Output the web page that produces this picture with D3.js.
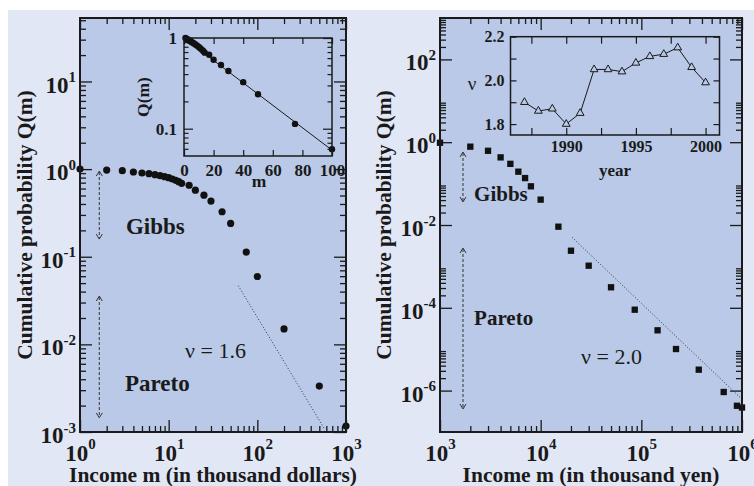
<!DOCTYPE html>
<html><head><meta charset="utf-8">
<script src="https://cdn.jsdelivr.net/npm/d3@7"></script>
<style>
body{margin:0;background:#fff}
svg{display:block}
text{font-family:'Liberation Serif','Times New Roman',serif}
</style>
</head><body>
<svg id="c" width="754" height="486"></svg>
<script>
// ---------------- data ----------------
// Left: USA income distribution (thousand dollars)
const usIncome = [1,2,3,4,5,6,7,8,9,10,11,12,13,14,17,20,25,30,40,50,75,100,200,500,1000];
const usQ = [1.0,0.976,0.959,0.927,0.903,0.886,0.863,0.841,0.819,0.798,0.771,0.745,0.718,0.689,0.654,0.575,0.504,0.432,0.326,0.240,0.113,0.0595,0.0150,0.00334,0.00117];
const usFitIncome = [61, 580];
const usFitQ = [0.0467, 0.00106];
// Inset of left panel (exponential fit on linear-log axes)
const insetFitM = [0, 100];
const insetFitQ = [1.0, 0.058];
// Right: Japan income distribution (thousand yen)
const jpIncome = [1000,2000,3000,4000,5000,6000,7000,8000,10000,15000,20000,30000,50000,86000,145000,221000,372000,658000,891000,1000000];
const jpQ = [0.97,0.78,0.62,0.43,0.30,0.194,0.136,0.086,0.041,0.0091,0.00239,0.00104,0.000313,9.0e-5,2.86e-5,1.01e-5,3.2e-6,9.25e-7,4.3e-7,3.9e-7];
const jpFitIncome = [20500, 973000];
const jpFitQ = [0.00505, 6.6e-7];
// Inset of right panel: Pareto exponent by year
const years = [1987,1988,1989,1990,1991,1992,1993,1994,1995,1996,1997,1998,1999,2000];
const nu = [1.90,1.86,1.87,1.80,1.85,2.05,2.05,2.04,2.08,2.11,2.12,2.15,2.06,1.99];
// tick values / labels
const usXTicks = [1,10,100,1000];
const usYTicks = [1e-3,1e-2,1e-1,1,10];
const jpXTicks = [1e3,1e4,1e5,1e6];
const jpYTicks = [1e-6,1e-4,1e-2,1,1e2];
const insetMTicks = [0,20,40,60,80,100];
const insetQTicks = [0.1,1];
const yearTicks = [1990,1995,2000];
const nuTicks = [1.8,2.0,2.2];
// annotations (data coordinates)
const usGibbsArrow = [1.65, 0.95, 0.159];
const usParetoArrow = [1.65, 0.0356, 0.00145];
const jpGibbsArrow = [1692, 0.58, 0.036];
const jpParetoArrow = [1692, 0.00278, 3.6e-7];

// ---------------- drawing ----------------
const BG = "#e2e7f5", FILL = "#b9c9e7", INK = "#1a1a1a";
const svg = d3.select("#c");
svg.append("rect").attr("x",8).attr("y",10).attr("width",746).attr("height",476).attr("fill",BG);

function minors(exps, lo, hi){
  const out=[];
  exps.forEach(e=>{for(let k=2;k<=9;k++){const v=k*Math.pow(10,e); if(v>lo&&v<hi) out.push(v);}});
  return out;
}
function supText(sel, fs, sfs, sdy){
  sel.each(function(d){
    const e=Math.round(Math.log10(d));
    const t=d3.select(this);
    t.text("10").attr("font-size",fs).attr("font-weight","bold").attr("fill",INK);
    t.append("tspan").attr("dy",sdy).attr("font-size",sfs).text(e<0?"-"+(-e):String(e));
  });
}
function ticks4(g, x, y, box, xSets, ySets, sw){
  const [x0,x1,y0,y1]=box;
  const mk=(fn,scale,vals,len,tr)=>{
    const gg=g.append("g").attr("transform",tr)
      .call(fn(scale).tickValues(vals).tickSize(-len).tickFormat(""));
    gg.select(".domain").remove();
    gg.selectAll("text").remove();
    gg.selectAll("line").attr("stroke",INK).attr("stroke-width",sw);
  };
  xSets.forEach(([vals,len])=>{
    mk(d3.axisBottom,x,vals,len,`translate(0,${y1})`);
    mk(d3.axisTop,x,vals,len,`translate(0,${y0})`);
  });
  ySets.forEach(([vals,len])=>{
    mk(d3.axisLeft,y,vals,len,`translate(${x0},0)`);
    mk(d3.axisRight,y,vals,len,`translate(${x1},0)`);
  });
}
function arrow(g, x, y1, y2){
  g.append("line").attr("x1",x).attr("x2",x).attr("y1",y1+1).attr("y2",y2-1)
    .attr("stroke","#333").attr("stroke-width",1).attr("stroke-dasharray","3,2");
  g.append("path").attr("d",`M${x-3},${y1+5}L${x},${y1}L${x+3},${y1+5}`).attr("fill","none").attr("stroke","#333").attr("stroke-width",1);
  g.append("path").attr("d",`M${x-3},${y2-5}L${x},${y2}L${x+3},${y2-5}`).attr("fill","none").attr("stroke","#333").attr("stroke-width",1);
}
function text(g, x, y, s, fs, bold, anchor){
  return g.append("text").attr("x",x).attr("y",y).attr("font-size",fs)
    .attr("font-weight",bold?"bold":"normal").attr("fill",INK)
    .attr("text-anchor",anchor||"start").text(s);
}

// ===== Left panel =====
{
  const L=80,R=346,T=18,B=432;
  const x=d3.scaleLog().domain([1,1000]).range([L,R]);
  const y=d3.scaleLog().domain([1e-3,53]).range([B,T]);
  const g=svg.append("g");
  g.append("rect").attr("x",L).attr("y",T).attr("width",R-L).attr("height",B-T).attr("fill",FILL);
  ticks4(g,x,y,[L,R,T,B],
    [[usXTicks,12],[minors([0,1,2],1,1000),6]],
    [[usYTicks,12],[minors([-3,-2,-1,0,1],1e-3,53),6]],1.3);
  // tick labels
  const xl=g.append("g").attr("transform",`translate(0,${B})`)
    .call(d3.axisBottom(x).tickValues(usXTicks).tickSize(0).tickPadding(13));
  xl.select(".domain").remove();
  supText(xl.selectAll("text"),23,15,-12);
  const yl=g.append("g").attr("transform",`translate(${L},0)`)
    .call(d3.axisLeft(y).tickValues(usYTicks).tickSize(0).tickPadding(4));
  yl.select(".domain").remove();
  yl.selectAll("text").attr("dy","0.46em");
  supText(yl.selectAll("text"),23,15,-10.5);
  // fit line
  g.append("path").datum(d3.zip(usFitIncome,usFitQ))
    .attr("d",d3.line().x(d=>x(d[0])).y(d=>y(d[1])))
    .attr("fill","none").attr("stroke","#333").attr("stroke-width",1).attr("stroke-dasharray","1,2");
  // points
  g.append("g").selectAll("circle").data(d3.zip(usIncome,usQ)).join("circle")
    .attr("cx",d=>x(d[0])).attr("cy",d=>y(d[1])).attr("r",3.6).attr("fill","#111");
  // annotations
  arrow(g,x(usGibbsArrow[0]),y(usGibbsArrow[1]),y(usGibbsArrow[2]));
  arrow(g,x(usParetoArrow[0]),y(usParetoArrow[1]),y(usParetoArrow[2]));
  text(g,x(3.3),y(0.182),"Gibbs",23,true);
  text(g,x(3.22),y(0.00294),"Pareto",23,true);
  text(g,x(15.3),y(0.0070),"ν = 1.6",22,false);
  g.append("rect").attr("x",L).attr("y",T).attr("width",R-L).attr("height",B-T)
    .attr("fill","none").attr("stroke",INK).attr("stroke-width",2);
  // axis titles
  text(g,(L+R)/2,482,"Income m (in thousand dollars)",21.5,true,"middle");
  g.append("text").attr("transform",`translate(31.5,${(T+B)/2}) rotate(-90)`)
    .attr("text-anchor","middle").attr("font-size",21.5).attr("font-weight","bold").attr("fill",INK)
    .text("Cumulative probability Q(m)");

  // ---- inset ----
  const iL=184,iR=332,iT=38,iB=156;
  const xi=d3.scaleLinear().domain([0,100]).range([iL,iR]);
  const yi=d3.scaleLog().domain([0.05,1]).range([iB,iT]);
  const gi=svg.append("g");
  gi.append("rect").attr("x",iL).attr("y",iT).attr("width",iR-iL).attr("height",iB-iT).attr("fill",FILL);
  ticks4(gi,xi,yi,[iL,iR,iT,iB],
    [[insetMTicks,6]],
    [[insetQTicks,9],[[0.06,0.07,0.08,0.09,0.2,0.3,0.4,0.5,0.6,0.7,0.8,0.9],4.5]],1.2);
  const ixl=gi.append("g").attr("transform",`translate(0,${iB})`)
    .call(d3.axisBottom(xi).tickValues(insetMTicks).tickSize(0).tickPadding(8).tickFormat(d3.format("d")));
  ixl.select(".domain").remove();
  ixl.selectAll("text").attr("font-size",17).attr("font-weight","bold").attr("fill",INK);
  const iyl=gi.append("g").attr("transform",`translate(${iL},0)`)
    .call(d3.axisLeft(yi).tickValues(insetQTicks).tickSize(0).tickPadding(7).tickFormat(d=>d===1?"1":"0.1"));
  iyl.select(".domain").remove();
  iyl.selectAll("text").attr("font-size",17).attr("font-weight","bold").attr("fill",INK);
  gi.append("path").datum(d3.zip(insetFitM,insetFitQ))
    .attr("d",d3.line().x(d=>xi(d[0])).y(d=>yi(d[1])))
    .attr("fill","none").attr("stroke",INK).attr("stroke-width",1);
  gi.append("g").selectAll("circle").data(d3.zip(usIncome,usQ).filter(d=>d[0]<=100)).join("circle")
    .attr("cx",d=>xi(d[0])).attr("cy",d=>yi(d[1])).attr("r",3.2).attr("fill","#111");
  gi.append("rect").attr("x",iL).attr("y",iT).attr("width",iR-iL).attr("height",iB-iT)
    .attr("fill","none").attr("stroke",INK).attr("stroke-width",1.5);
  text(gi,(iL+iR)/2+1,186.5,"m",17.5,true,"middle");
  gi.append("text").attr("transform",`translate(148.5,${(iT+iB)/2}) rotate(-90)`)
    .attr("text-anchor","middle").attr("font-size",17.5).attr("font-weight","bold").attr("fill",INK)
    .text("Q(m)");
}

// ===== Right panel =====
{
  const L=440,R=742,T=18,B=432;
  const x=d3.scaleLog().domain([1e3,1e6]).range([L,R]);
  const y=d3.scaleLog().domain([1e-7,1e3]).range([B,T]);
  const g=svg.append("g");
  g.append("rect").attr("x",L).attr("y",T).attr("width",R-L).attr("height",B-T).attr("fill",FILL);
  ticks4(g,x,y,[L,R,T,B],
    [[jpXTicks,12],[minors([3,4,5],1e3,1e6),6]],
    [[jpYTicks,12],[minors([-6,-4,-2,0,2],1e-7,1e3),6]],1.3);
  const xl=g.append("g").attr("transform",`translate(0,${B})`)
    .call(d3.axisBottom(x).tickValues(jpXTicks).tickSize(0).tickPadding(13));
  xl.select(".domain").remove();
  supText(xl.selectAll("text"),23,15,-12);
  const yl=g.append("g").attr("transform",`translate(${L},0)`)
    .call(d3.axisLeft(y).tickValues(jpYTicks).tickSize(0).tickPadding(4));
  yl.select(".domain").remove();
  yl.selectAll("text").attr("dy","0.46em");
  supText(yl.selectAll("text"),23,15,-10.5);
  g.append("path").datum(d3.zip(jpFitIncome,jpFitQ))
    .attr("d",d3.line().x(d=>x(d[0])).y(d=>y(d[1])))
    .attr("fill","none").attr("stroke","#333").attr("stroke-width",1).attr("stroke-dasharray","1,2");
  g.append("g").selectAll("path.sq").data(d3.zip(jpIncome,jpQ)).join("path")
    .attr("transform",d=>`translate(${x(d[0])},${y(d[1])})`)
    .attr("d",d3.symbol(d3.symbolSquare,40)).attr("fill","#111");
  arrow(g,x(jpGibbsArrow[0]),y(jpGibbsArrow[1]),y(jpGibbsArrow[2]));
  arrow(g,x(jpParetoArrow[0]),y(jpParetoArrow[1]),y(jpParetoArrow[2]));
  text(g,x(2180),y(0.038),"Gibbs",21,true);
  text(g,x(2180),y(3.95e-5),"Pareto",21,true);
  text(g,x(25200),y(4.5e-6),"ν = 2.0",22,false);
  g.append("rect").attr("x",L).attr("y",T).attr("width",R-L).attr("height",B-T)
    .attr("fill","none").attr("stroke",INK).attr("stroke-width",2);
  text(g,(L+R)/2,482,"Income m (in thousand yen)",21.5,true,"middle");
  g.append("text").attr("transform",`translate(391,${(T+B)/2}) rotate(-90)`)
    .attr("text-anchor","middle").attr("font-size",21.5).attr("font-weight","bold").attr("fill",INK)
    .text("Cumulative probability Q(m)");

  // ---- inset ----
  const iL=510.5,iR=719.5,iT=36.7,iB=135;
  const xi=d3.scaleLinear().domain([1986,2001]).range([iL,iR]);
  const yi=d3.scaleLinear().domain([1.75,2.2]).range([iB,iT]);
  const gi=svg.append("g");
  gi.append("rect").attr("x",iL).attr("y",iT).attr("width",iR-iL).attr("height",iB-iT).attr("fill",FILL);
  ticks4(gi,xi,yi,[iL,iR,iT,iB],
    [[[1987.5,1990,1992.5,1995,1997.5,2000],7]],
    [[[1.8,1.9,2.0,2.1,2.2],6]],1.2);
  const ixl=gi.append("g").attr("transform",`translate(0,${iB})`)
    .call(d3.axisBottom(xi).tickValues(yearTicks).tickSize(0).tickPadding(5.5).tickFormat(d3.format("d")));
  ixl.select(".domain").remove();
  ixl.selectAll("text").attr("font-size",16).attr("font-weight","bold").attr("fill",INK);
  const iyl=gi.append("g").attr("transform",`translate(${iL},0)`)
    .call(d3.axisLeft(yi).tickValues(nuTicks).tickSize(0).tickPadding(6).tickFormat(d3.format(".1f")));
  iyl.select(".domain").remove();
  iyl.selectAll("text").attr("font-size",16).attr("font-weight","bold").attr("fill",INK);
  gi.append("path").datum(d3.zip(years,nu))
    .attr("d",d3.line().x(d=>xi(d[0])).y(d=>yi(d[1])))
    .attr("fill","none").attr("stroke",INK).attr("stroke-width",1);
  gi.append("g").selectAll("path").data(d3.zip(years,nu)).join("path")
    .attr("transform",d=>`translate(${xi(d[0])},${yi(d[1])})`)
    .attr("d",d3.symbol(d3.symbolTriangle,26)).attr("fill",FILL).attr("stroke",INK).attr("stroke-width",1);
  gi.append("rect").attr("x",iL).attr("y",iT).attr("width",iR-iL).attr("height",iB-iT)
    .attr("fill","none").attr("stroke",INK).attr("stroke-width",1.5);
  text(gi,615,176,"year",17,true,"middle");
  text(gi,472,90,"ν",19,false,"middle");
}
</script>
</body></html>
